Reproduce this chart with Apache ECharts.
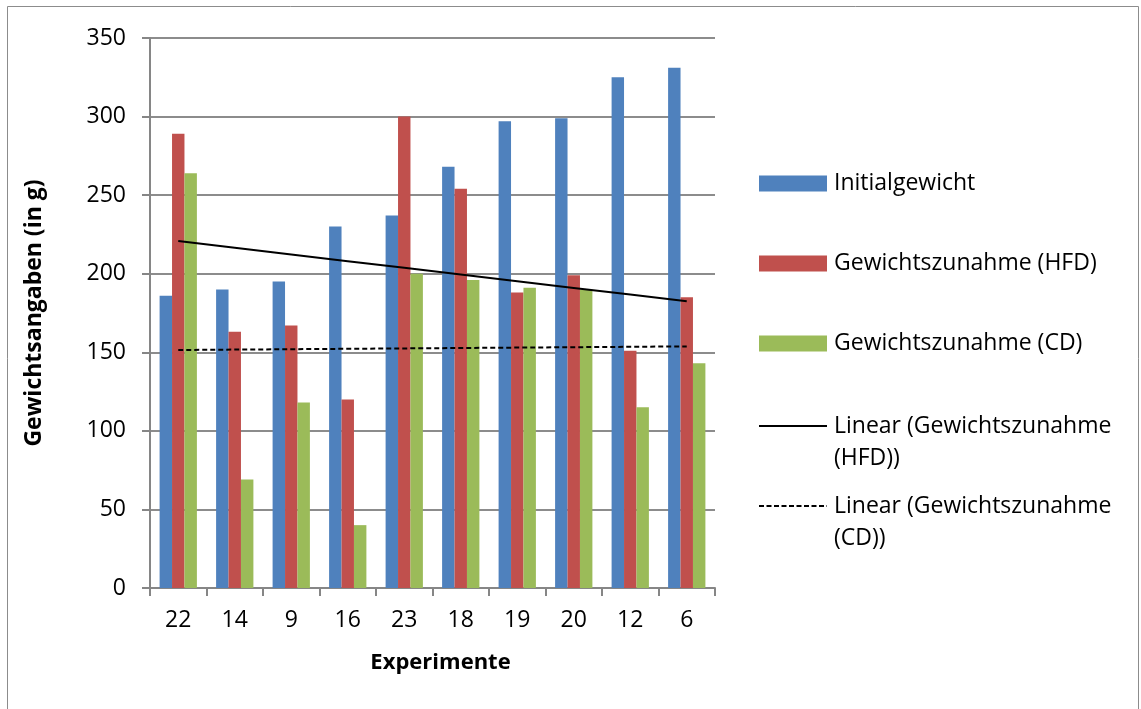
<!DOCTYPE html>
<html>
<head>
<meta charset="utf-8">
<script src="https://cdn.jsdelivr.net/npm/echarts@6/dist/echarts.min.js"></script>
<style>html,body{margin:0;padding:0;background:#fff}#c{width:1141px;height:709px}</style>
</head>
<body>
<div id="c"></div>
<script>
var categories = ['22', '14', '9', '16', '23', '18', '19', '20', '12', '6'];
var initialgewicht = [186, 190, 195, 230, 237, 268, 297, 299, 325, 331];
var zunahmeHFD = [289, 163, 167, 120, 300, 254, 188, 199, 151, 185];
var zunahmeCD = [264, 69, 118, 40, 200, 196, 191, 190, 115, 143];
var yTicks = [0, 50, 100, 150, 200, 250, 300, 350];

// Excel-style linear trend lines (least squares over category index)
function linearTrend(vals) {
  var n = vals.length, sx = 0, sy = 0, sxx = 0, sxy = 0;
  for (var i = 0; i < n; i++) { var x = i + 1; sx += x; sy += vals[i]; sxx += x * x; sxy += x * vals[i]; }
  var b = (n * sxy - sx * sy) / (n * sxx - sx * sx);
  var a = (sy - b * sx) / n;
  return vals.map(function (v, i) { return +(a + b * (i + 1)).toFixed(3); });
}
var trendHFD = linearTrend(zunahmeHFD);
var trendCD = linearTrend(zunahmeCD);

var FONT = 'Open Sans';
var FS = 22;
var LFS = 23;
var solidIcon = 'path://M0,0M0,15L68,15L68,17L0,17ZM68,64';
var dashedIcon = 'path://M0,0';
for (var d = 0; d < 68; d += 7.5) {
  var e = Math.min(d + 5, 68);
  dashedIcon += 'M' + d + ',15L' + e + ',15L' + e + ',17L' + d + ',17Z';
}
dashedIcon += 'M68,64';

function barLegend(name, top) {
  return {
    data: [name], left: 759, top: top, padding: 0, orient: 'vertical',
    itemWidth: 68, itemHeight: 16, itemGap: 0, selectedMode: false,
    icon: 'rect',
    textStyle: { fontFamily: FONT, fontSize: LFS, color: '#000', padding: [0, 0, 0, 2] }
  };
}
function lineLegend(name, icon, top) {
  return {
    data: [{ name: name, icon: icon, itemStyle: { color: '#000', borderWidth: 0 } }],
    left: 759, top: top, padding: 0, orient: 'vertical',
    itemWidth: 68, itemHeight: 64, itemGap: 0, selectedMode: false,
    formatter: function (n) { return n.replace(' (HFD))', '\n(HFD))').replace(' (CD))', '\n(CD))'); },
    textStyle: { fontFamily: FONT, fontSize: LFS, color: '#000', lineHeight: 32, padding: [0, 0, 0, 2] }
  };
}

var chart = echarts.init(document.getElementById('c'));
chart.setOption({
  animation: false,
  backgroundColor: '#fff',
  graphic: [{
    type: 'rect', shape: { x: 7.5, y: 6.5, width: 1131, height: 720 },
    style: { fill: 'none', stroke: '#8c8c8c', lineWidth: 1 }, silent: true, z: -10
  }],
  grid: { left: 150, right: 426, top: 38, bottom: 121 },
  legend: [
    barLegend('Initialgewicht', 172),
    barLegend('Gewichtszunahme (HFD)', 252),
    barLegend('Gewichtszunahme (CD)', 332),
    lineLegend('Linear (Gewichtszunahme (HFD))', solidIcon, 410),
    lineLegend('Linear (Gewichtszunahme (CD))', dashedIcon, 490)
  ],
  xAxis: {
    type: 'category', data: categories,
    name: 'Experimente', nameLocation: 'middle', nameGap: 64,
    nameTextStyle: { fontFamily: FONT, fontSize: FS, fontWeight: 'bold', color: '#000', padding: [0, 0, 0, 16] },
    axisLine: { lineStyle: { color: '#868686', width: 2 } },
    axisTick: { show: true, length: 8, inside: false, lineStyle: { color: '#868686', width: 2 } },
    axisLabel: { fontFamily: FONT, fontSize: LFS, color: '#000', margin: 21 }
  },
  yAxis: {
    type: 'value', min: yTicks[0], max: yTicks[yTicks.length - 1], interval: 50,
    name: 'Gewichtsangaben (in g)', nameLocation: 'middle', nameGap: 104,
    nameTextStyle: { fontFamily: FONT, fontSize: LFS, fontWeight: 'bold', color: '#000' },
    axisLine: { show: true, lineStyle: { color: '#868686', width: 2 } },
    axisTick: { show: true, length: 8, lineStyle: { color: '#868686', width: 2 } },
    splitLine: { lineStyle: { color: '#8c8c8c', width: 2 } },
    axisLabel: { fontFamily: FONT, fontSize: LFS, color: '#000', margin: 24 }
  },
  series: [
    { name: 'Initialgewicht', type: 'bar', data: initialgewicht, barGap: '0%', barCategoryGap: '34%',
      itemStyle: { color: '#4F81BD' } },
    { name: 'Gewichtszunahme (HFD)', type: 'bar', data: zunahmeHFD,
      itemStyle: { color: '#C0504D' } },
    { name: 'Gewichtszunahme (CD)', type: 'bar', data: zunahmeCD,
      itemStyle: { color: '#9BBB59' } },
    { name: 'Linear (Gewichtszunahme (HFD))', type: 'line', data: trendHFD, showSymbol: false, symbol: 'none',
      itemStyle: { color: '#000' }, lineStyle: { color: '#000', width: 2 }, z: 5 },
    { name: 'Linear (Gewichtszunahme (CD))', type: 'line', data: trendCD, showSymbol: false, symbol: 'none',
      itemStyle: { color: '#000' }, lineStyle: { color: '#000', width: 2, type: [5, 3] }, z: 5 }
  ]
});
</script>
</body>
</html>
